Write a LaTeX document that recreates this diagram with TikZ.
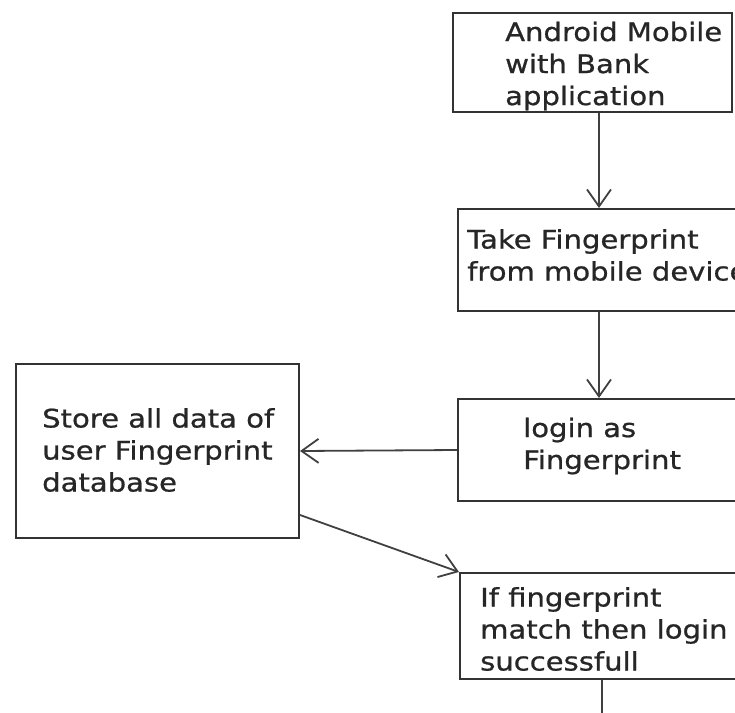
\documentclass[tikz,border=0pt]{standalone}
\usepackage{fontspec}
\setmainfont{DejaVu Sans}[FakeStretch=1.14,FakeBold=0.8]
\usetikzlibrary{arrows.meta}
\tikzset{
  box/.style={draw=black!80, line width=2bp, anchor=north west, inner sep=0},
  txt/.style={anchor=west, align=left, inner sep=0, text=black!85, font=\fontsize{25.5bp}{32bp}\selectfont},
  arr/.style={draw=black!75, line width=1.8bp, -{Straight Barb[length=17bp,width=24bp]}}
}
\begin{document}
\begin{tikzpicture}[x=1bp,y=-1bp]
  \useasboundingbox (0,0) rectangle (735,713);
  \clip (0,0) rectangle (735,713);
  % boxes
  \node[box, minimum width=279bp, minimum height=99bp] (mobile) at (452,12) {};
  \node[box, minimum width=282bp, minimum height=102bp] (take) at (457,208) {};
  \node[box, minimum width=282bp, minimum height=102bp] (login) at (457,398) {};
  \node[box, minimum width=283bp, minimum height=174bp] (store) at (15,363) {};
  \node[box, minimum width=284bp, minimum height=106bp] (match) at (459,572) {};
  \coordinate (exit) at (0,720);
  % texts
  \node[txt] (mobiletxt) at (505,66) {Android Mobile\\with Bank\\application};
  \node[txt] (taketxt) at (467,255) {Take Fingerprint\\from mobile device};
  \node[txt] (logintxt) at (523,446) {login as\\Fingerprint};
  \node[txt] (storetxt) at (42,450) {Store all data of\\user Fingerprint\\database};
  \node[txt] (matchtxt) at (480,629) {If fingerprint\\match then login\\successfull};
  % connectors
  \draw[arr] (mobile.south -| take.north) -- (take.north);
  \draw[arr] (take.south) -- (login.north);
  \draw[arr] (login.west) -- (store.east);
  \draw[arr] ([yshift=24bp]store.south east) -- (match.north west);
  \draw[draw=black!75, line width=1.8bp] (match.south) -- (match.south |- exit);
\end{tikzpicture}
\end{document}
